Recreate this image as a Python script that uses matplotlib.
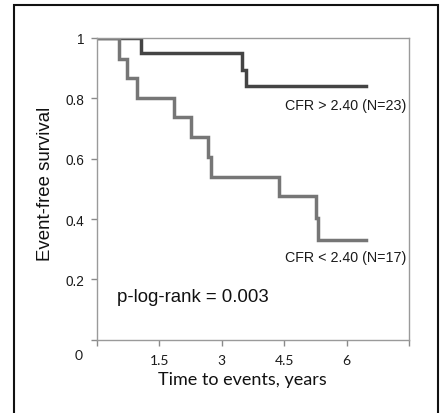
import matplotlib
matplotlib.use("Agg")
import matplotlib.pyplot as plt
from matplotlib.patches import Rectangle

# Data (Kaplan-Meier step curves)
high_t = [0.0, 1.05, 3.49, 3.59, 6.47]
high_s = [1.0, 0.949, 0.894, 0.841, 0.841]
low_t = [0.0, 0.54, 0.71, 0.95, 1.84, 2.26, 2.66, 2.74, 4.38, 5.26, 5.32, 6.47]
low_s = [1.0, 0.930, 0.866, 0.800, 0.737, 0.671, 0.605, 0.538, 0.475, 0.403, 0.331, 0.331]
xticks = [0, 1.5, 3, 4.5, 6, 7.5]
xtick_labels = ["", "1.5", "3", "4.5", "6", ""]
yticks = [0, 0.2, 0.4, 0.6, 0.8, 1.0]
ytick_labels = ["", "0.2", "0.4", "0.6", "0.8", "1"]

fig = plt.figure(figsize=(4.4, 4.14), dpi=100)
ax = fig.add_axes([97/440, 1-340.7/414, (409-97)/440, (340.7-39)/414])

ax.step(high_t, high_s, where="post", color="#444444", lw=2.5, solid_joinstyle="miter")
ax.step(low_t, low_s, where="post", color="#767676", lw=2.5, solid_joinstyle="miter")

ax.set_xlim(0, 7.5)
ax.set_ylim(0, 1.0)
ax.set_xticks(xticks)
ax.set_xticklabels(xtick_labels, family="Lato", fontsize=10, color="#1a1a1a")
ax.set_yticks(yticks)
ax.set_yticklabels(ytick_labels, family="Liberation Sans", fontsize=9.8, color="#1a1a1a")

for s in ax.spines.values():
    s.set_color("#9a9a9a")
    s.set_linewidth(1.0)
ax.tick_params(axis="y", direction="out", length=4, width=1, color="#8a8a8a", pad=5)
ax.tick_params(axis="x", direction="out", length=4, width=1, color="#8a8a8a", pad=6)

ax.text(5.98, 0.778, "CFR > 2.40 (N=23)", ha="center", va="center",
        family="Liberation Sans", fontsize=10.3, color="#1a1a1a")
ax.text(5.98, 0.274, "CFR < 2.40 (N=17)", ha="center", va="center",
        family="Liberation Sans", fontsize=10.3, color="#1a1a1a")
ax.text(0.47, 0.143, "p-log-rank = 0.003", ha="left", va="center",
        family="Liberation Sans", fontsize=13.4, color="#111111")

fig.text(45/440, 1-183.5/414, "Event-free survival", rotation=90, ha="center", va="center",
         family="Liberation Sans", fontsize=13.4, color="#111111")
fig.text(242/440, 1-380/414, "Time to events, years", ha="center", va="center",
         family="Lato", fontsize=13, color="#111111")

# "0" at the origin corner
fig.text(79/440, 1-356/414, "0", ha="center", va="center", family="Lato",
         fontsize=10, color="#1a1a1a")

# outer frame
fig.patches.append(Rectangle((14/440, -0.02), (438-14)/440, 1-6/414+0.02,
                             transform=fig.transFigure, fill=False,
                             edgecolor="#111111", lw=1.5))

fig.savefig("out.png", dpi=100)
